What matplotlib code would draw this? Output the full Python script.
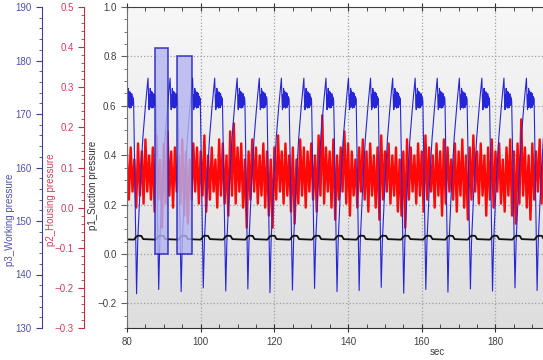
import numpy as np
import matplotlib.pyplot as plt
from matplotlib.colors import LinearSegmentedColormap
from matplotlib.ticker import MultipleLocator

plt.rcParams['font.family'] = ['Liberation Sans', 'DejaVu Sans']

# blue p3 (working pressure): one cycle shape around each peak
peak_times = [79.7, 85.7, 91.7, 97.8, 103.8, 109.9, 115.9, 121.9, 128.0, 134.0,
              140.1, 146.1, 152.1, 158.2, 164.2, 170.2, 176.3, 182.3, 188.4, 194.4]
blue_min = [137.0, 136.4, 137.2, 136.8, 137.5, 136.9, 137.3, 136.6, 137.1, 137.4,
            136.8, 137.0, 137.6, 136.5, 137.2, 136.7, 137.3, 136.9, 137.5, 137.0]
cycle_dt = [-3.1, -2.8, -2.1, -1.4, -0.7, 0.0, 0.1, 0.2, 0.3, 0.4, 0.5, 0.6,
            0.7, 0.8, 0.9, 1.0, 1.1, 1.2, 1.3, 1.4, 1.5, 1.6, 1.7, 1.8,
            1.9, 2.0, 2.1]
cycle_p3 = [None, 146.0, 157.0, 165.5, 171.5, 176.7, 174.5, 172.0, 170.8, 173.6,
            171.2, 174.8, 172.0, 174.3, 171.3, 173.9, 171.1, 174.1, 171.5, 173.6,
            171.2, 173.8, 171.6, 173.3, 171.8, 173.0, 172.3]

# black p1 (suction pressure): small hump around each blue minimum
black_dt = [-3.8, -3.3, -2.8, -1.8, -1.3, 1.9]
black_p1 = [0.058, 0.068, 0.074, 0.073, 0.060, 0.058]

# red p2 (housing pressure): upper peaks each second, lower peaks half a second later
red_hi = [0.13, 0.15, 0.12, 0.16, 0.14, 0.17, 0.13, 0.15, 0.18, 0.12,
          0.16, 0.19, 0.14, 0.15, 0.13, 0.17, 0.14, 0.12, 0.16, 0.15,
          0.14, 0.18, 0.13, 0.15, 0.12, 0.17, 0.16, 0.13, 0.19, 0.21,
          0.15, 0.16, 0.12, 0.14, 0.17, 0.15, 0.13, 0.16, 0.14, 0.12,
          0.15, 0.18, 0.14, 0.16, 0.13, 0.15, 0.12, 0.17, 0.15, 0.14,
          0.16, 0.13, 0.18, 0.23, 0.15, 0.14, 0.17, 0.13, 0.15, 0.19,
          0.16, 0.14, 0.12, 0.15, 0.17, 0.14, 0.16, 0.13, 0.15, 0.18,
          0.14, 0.16, 0.13, 0.15, 0.12, 0.14, 0.17, 0.15, 0.13, 0.16,
          0.14, 0.18, 0.15, 0.13, 0.16, 0.14, 0.17, 0.15, 0.12, 0.16,
          0.14, 0.17, 0.13, 0.15, 0.18, 0.14, 0.16, 0.13, 0.15, 0.17,
          0.14, 0.16, 0.12, 0.15, 0.17, 0.14, 0.16, 0.22, 0.15, 0.13,
          0.16, 0.14, 0.17, 0.13]
red_lo = [0.02, 0.04, 0.00, 0.03, 0.01, 0.04, 0.02, -0.01, 0.02, -0.05,
          0.01, 0.03, 0.00, 0.04, 0.01, -0.02, -0.04, 0.02, 0.04, 0.01,
          0.03, -0.01, 0.02, 0.04, 0.00, 0.03, 0.01, -0.02, 0.03, 0.01,
          0.04, 0.00, -0.05, 0.02, 0.04, 0.01, 0.03, 0.00, -0.02, -0.05,
          0.02, 0.04, 0.01, 0.03, -0.01, -0.04, 0.01, 0.03, 0.00, 0.04,
          0.02, -0.01, 0.03, 0.01, 0.04, 0.00, -0.03, 0.02, 0.04, 0.01,
          -0.02, 0.03, 0.00, 0.04, 0.02, -0.01, 0.03, 0.00, -0.03, 0.02,
          0.04, 0.01, 0.03, -0.01, -0.02, -0.05, 0.02, 0.04, 0.01, 0.03,
          -0.01, 0.02, 0.04, 0.00, 0.03, -0.02, 0.01, 0.04, 0.02, -0.01,
          0.03, 0.00, -0.03, 0.02, 0.04, 0.01, 0.03, -0.02, 0.02, 0.00,
          0.04, 0.01, -0.01, 0.03, -0.02, -0.04, 0.01, 0.03, 0.00, -0.03,
          0.02, 0.04, 0.01]

# selection boxes (p1 units)
box_left = [87.6, 93.6]
box_right = [91.1, 97.6]
box_top = [0.835, 0.80]

# build the plotted series from the pieces above
bt, bv = [], []
for pk, mn in zip(peak_times, blue_min):
    for dt, v in zip(cycle_dt, cycle_p3):
        bt.append(pk + dt)
        bv.append(mn if v is None else v)
kt, kv = [], []
for pk in peak_times:
    for dt, v in zip(black_dt, black_p1):
        kt.append(pk + dt)
        kv.append(v)
rt = np.empty(len(red_hi) + len(red_lo))
rv = np.empty_like(rt)
rt[0::2] = np.arange(80, 80 + len(red_hi))
rt[1::2] = np.arange(80.5, 80.5 + len(red_lo))
rv[0::2] = red_hi
rv[1::2] = red_lo

fig = plt.figure(figsize=(5.43, 3.6), dpi=100)
ax = fig.add_axes([127 / 543, 1 - 328 / 360, 1 - 127 / 543, 321 / 360])
ax_red = ax.twinx()
ax_blue = ax.twinx()
ax_red.set_zorder(1)
ax_blue.set_zorder(2)
ax.set_zorder(3)
ax.patch.set_visible(False)
ax_blue.patch.set_visible(False)

# grey gradient background
bg = LinearSegmentedColormap.from_list('bg', ['#dedede', '#f7f7f7'])
ax_red.imshow(np.linspace(0, 1, 100).reshape(-1, 1), cmap=bg, origin='lower',
              extent=[0, 1, 0, 1], transform=ax_red.transAxes, aspect='auto', zorder=0)

# dotted grid below the signals
for g in [100, 120, 140, 160, 180]:
    ax_red.axvline(g, color='#a0a0a0', ls=':', lw=0.9, zorder=0.5)
for g in [-0.2, 0.0, 0.2, 0.4, 0.6, 0.8]:
    ax_red.plot([0, 1], [g, g], transform=ax.get_yaxis_transform(),
                color='#a0a0a0', ls=':', lw=0.9, zorder=0.5)

ax_red.plot(rt, rv, color='#ff0808', lw=1.7, zorder=2)
ax_blue.plot(bt, bv, color='#2626d8', lw=0.8, zorder=2)
ax.plot(kt, kv, color='#101010', lw=1.3, zorder=2)
for l, r, t in zip(box_left, box_right, box_top):
    ax.bar(l, t, width=r - l, align='edge', color='#b4b4f0', alpha=0.8,
           edgecolor='#1c1cc0', lw=1.2, zorder=4)

ax.set_xlim(80, 192.9)
ax.set_ylim(-0.3, 1.0)
ax_red.set_ylim(-0.3, 0.5)
ax_blue.set_ylim(130, 190)

# main axis (p1)
ax.xaxis.set_major_locator(MultipleLocator(20))
ax.xaxis.set_minor_locator(MultipleLocator(5))
ax.yaxis.set_major_locator(MultipleLocator(0.2))
ax.yaxis.set_minor_locator(MultipleLocator(0.05))
ax.tick_params(axis='x', which='major', direction='inout', length=6, top=True,
               labelsize=7, labelcolor='#404040', color='#303030')
ax.tick_params(axis='x', which='minor', direction='in', length=3, top=True, color='#303030')
ax.tick_params(axis='y', which='both', direction='out', labelsize=7,
               labelcolor='#404040', color='#606060', right=False)
ax.tick_params(axis='y', which='major', length=4)
ax.tick_params(axis='y', which='minor', length=2)
ax.spines['right'].set_visible(False)
ax.spines['left'].set_color('#707070')
ax.spines['top'].set_color('#404040')
ax.spines['bottom'].set_color('#303030')

for tw, off, col, lab, maj, mnr in [
        (ax_red, -0.1034, '#c03048', '#d04060', 0.1, 0.02),
        (ax_blue, -0.2043, '#3c3ca0', '#5050b0', 10, 2)]:
    for s in ['right', 'top', 'bottom']:
        tw.spines[s].set_visible(False)
    tw.spines['left'].set_visible(True)
    tw.spines['left'].set_position(('axes', off))
    tw.spines['left'].set_color(col)
    tw.yaxis.set_ticks_position('left')
    tw.yaxis.set_major_locator(MultipleLocator(maj))
    tw.yaxis.set_minor_locator(MultipleLocator(mnr))
    tw.tick_params(axis='y', which='both', direction='out', color=col,
                   labelcolor=lab, labelsize=7)
    tw.tick_params(axis='y', which='major', length=4)
    tw.tick_params(axis='y', which='minor', length=2)
    tw.tick_params(axis='x', which='both', bottom=False, top=False,
                   labelbottom=False)

fig.text(10 / 543, 1 - 220 / 360, 'p3_Working pressure', rotation=90,
         ha='center', va='center', color='#5050b0', fontsize=7)
fig.text(51 / 543, 1 - 200 / 360, 'p2_Housing pressure', rotation=90,
         ha='center', va='center', color='#d04060', fontsize=7)
fig.text(93 / 543, 1 - 185 / 360, 'p1_Suction pressure', rotation=90,
         ha='center', va='center', color='#303030', fontsize=7)
fig.text(437 / 543, 1 - 352 / 360, 'sec', ha='center', va='center',
         color='#404040', fontsize=7)

fig.savefig('out.png', dpi=100)
